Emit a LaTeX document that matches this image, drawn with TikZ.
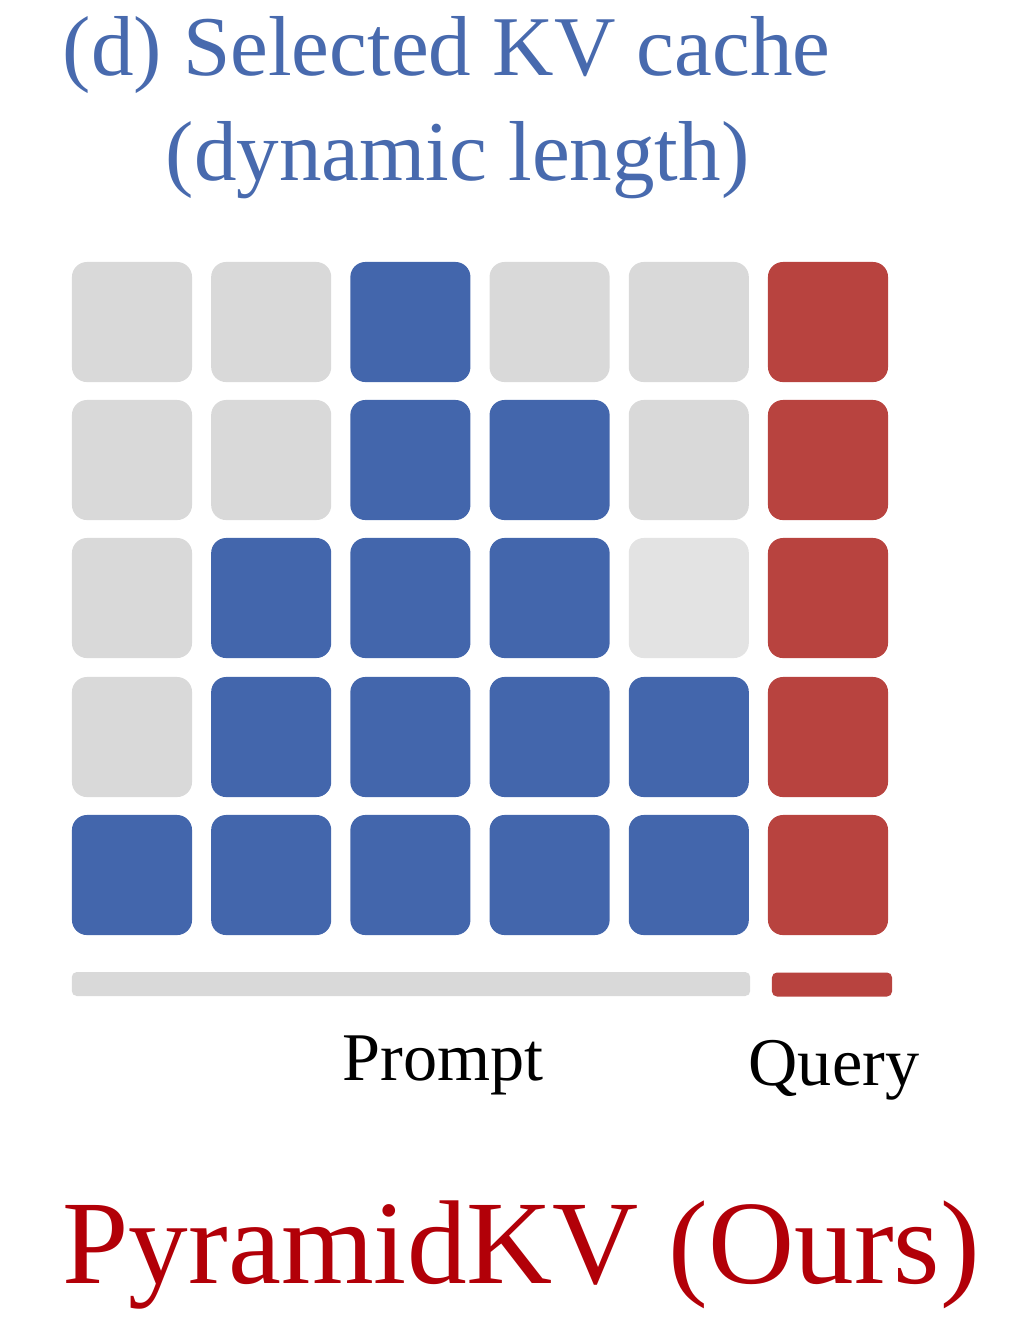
\documentclass[tikz,border=0pt]{standalone}
\usepackage{fontspec}
\setmainfont{Liberation Serif}
\usetikzlibrary{positioning}
\definecolor{kvblue}{RGB}{67,102,172}
\definecolor{kvgray}{RGB}{217,217,217}
\definecolor{kvlight}{RGB}{227,227,227}
\definecolor{kvred}{RGB}{184,67,63}
\definecolor{titleblue}{RGB}{72,106,174}
\definecolor{oursred}{RGB}{178,0,8}
\tikzset{
  cell/.style={rectangle,rounded corners=0.15cm,minimum size=1.2cm,inner sep=0pt},
  bar/.style={rectangle,rounded corners=0.05cm,inner sep=0pt,minimum height=0.24cm},
  caption/.style={inner sep=0pt,anchor=base west}
}

\begin{document}
\begin{tikzpicture}[x=0.01cm,y=-0.01cm]
  \useasboundingbox (0,0) rectangle (1018,1329);
  % title
  \node[caption,text=titleblue,font=\fontsize{24.2}{29}\selectfont] (title) at (62,75) {(d) Selected KV cache};
  \node[caption,text=titleblue,font=\fontsize{24.2}{29}\selectfont] (subtitle) at (165,180) {(dynamic length)};
  % grid of kv cells
  \foreach \row/\y/\colors in {1/322/{kvgray,kvgray,kvblue,kvgray,kvgray,kvred},
                               2/460/{kvgray,kvgray,kvblue,kvblue,kvgray,kvred},
                               3/598/{kvgray,kvblue,kvblue,kvblue,kvlight,kvred},
                               4/737/{kvgray,kvblue,kvblue,kvblue,kvblue,kvred},
                               5/875/{kvblue,kvblue,kvblue,kvblue,kvblue,kvred}}{
    \foreach \c [count=\col] in \colors
      \node[cell,fill=\c] (c-\row-\col) at ({132+139.2*(\col-1)},\y) {};
  }
  % bars
  \node[bar,fill=kvgray,minimum width=6.78cm] (promptbar) at (411,984) {};
  \node[bar,fill=kvred,minimum width=1.2cm] (querybar) at (832,984.5) {};
  % labels
  \node[caption,font=\fontsize{19.4}{23}\selectfont] (prompt) at (342,1080) {Prompt};
  \node[caption,font=\fontsize{19.4}{23}\selectfont] (query) at (748,1085) {Query};
  \node[caption,text=oursred,font=\fontsize{33.9}{40}\selectfont] (ours) at (62,1283) {PyramidKV (Ours)};
\end{tikzpicture}
\end{document}
